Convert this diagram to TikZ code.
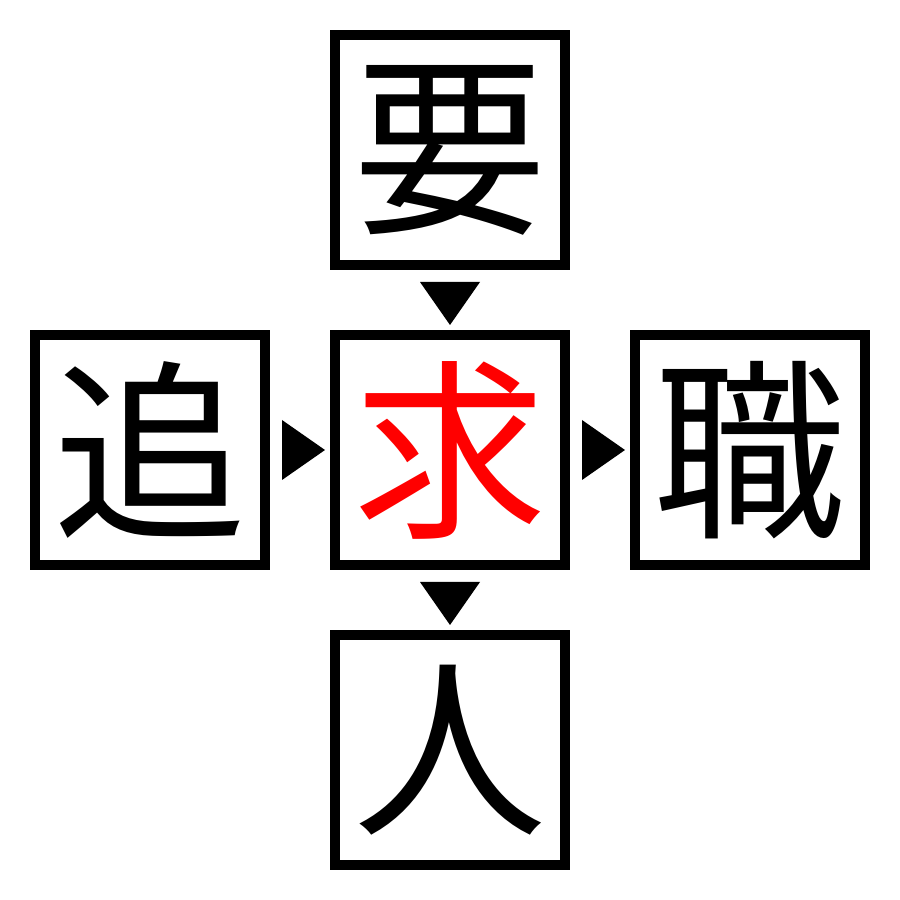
\documentclass[tikz,border=0pt]{standalone}
\usepackage{fontspec}
\newfontfamily\cjk{Noto Sans CJK JP}
\usetikzlibrary{positioning, calc}

\begin{document}
\begin{tikzpicture}[
            node distance = 0.7cm, % gap between box borders
            box/.style = {draw = black, line width = 1mm, fill = white,
                minimum size = 2.3cm, inner sep = 0pt, outer sep = 0pt,
                font = \cjk\fontsize{55}{55}\selectfont}
        ]

        \useasboundingbox (0,0) rectangle (9,9);

        \node[box, text = red] (qiu) at (4.5,4.5) {求};
        \node[box] (yao) [above=of qiu] {要};
        \node[box] (ren) [below=of qiu] {人};
        \node[box] (zhui) [left=of qiu] {追};
        \node[box] (zhi) [right=of qiu] {職};

        % triangles between the boxes
        \fill ($(qiu.west)+(-0.1,0)$) -- ++(-0.43,0.3) -- ++(0,-0.6) -- cycle;
        \fill ($(zhi.west)+(-0.1,0)$) -- ++(-0.43,0.3) -- ++(0,-0.6) -- cycle;
        \fill ($(qiu.north)+(0,0.1)$) -- ++(-0.3,0.43) -- ++(0.6,0) -- cycle;
        \fill ($(ren.north)+(0,0.1)$) -- ++(-0.3,0.43) -- ++(0.6,0) -- cycle;

    \end{tikzpicture}
\end{document}
